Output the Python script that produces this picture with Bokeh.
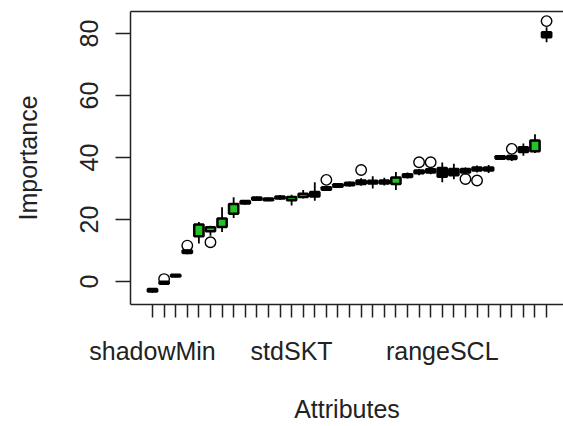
from bokeh.plotting import figure
from bokeh.models import Range1d, LinearAxis, FixedTicker, ColumnDataSource
from bokeh.embed import file_html
from bokeh.resources import INLINE

# ---- data ----
positions = list(range(1, 36))
lower_whisker = [-3.6, -1.0, 1.3, 8.8, 12.3, 14.8, 16.0, 20.5, 24.8, 26.0,
                 25.9, 26.4, 24.5, 26.8, 26.1, 29.2, 30.2, 30.6, 30.9, 30.0,
                 31.0, 29.5, 33.2, 34.3, 34.6, 32.0, 33.0, 34.5, 35.2, 35.0,
                 39.2, 38.9, 40.6, 41.5, 77.2]
q1 = [-3.2, -0.7, 1.6, 9.2, 14.6, 16.2, 17.6, 21.9, 25.2, 26.4,
      26.2, 26.8, 26.2, 27.3, 27.4, 29.6, 30.6, 31.1, 31.5, 31.6,
      31.6, 31.5, 33.7, 34.9, 35.2, 33.8, 34.3, 35.2, 35.8, 35.8,
      39.6, 39.5, 41.8, 42.0, 78.8]
median = [-2.8, -0.4, 1.9, 9.6, 16.3, 16.8, 18.5, 23.3, 25.6, 26.8,
          26.5, 27.1, 26.8, 27.8, 28.2, 30.0, 31.0, 31.5, 32.0, 32.0,
          32.1, 32.5, 34.1, 35.3, 35.7, 35.3, 35.0, 35.8, 36.3, 36.3,
          40.0, 40.0, 42.6, 43.6, 79.6]
q3 = [-2.4, -0.1, 2.2, 10.0, 18.4, 17.5, 20.3, 25.0, 26.0, 27.1,
      26.8, 27.4, 27.3, 28.3, 28.9, 30.4, 31.4, 31.9, 32.6, 32.5,
      32.6, 33.6, 34.6, 35.8, 36.2, 36.6, 36.3, 36.3, 36.8, 36.8,
      40.4, 40.5, 43.3, 45.5, 80.4]
upper_whisker = [-2.1, 0.2, 2.4, 10.4, 19.2, 18.0, 24.0, 27.2, 26.3, 27.4,
                 27.1, 27.9, 28.0, 29.5, 32.0, 30.9, 31.8, 32.3, 33.3, 34.0,
                 33.5, 35.3, 35.2, 36.3, 36.7, 38.4, 38.0, 36.8, 37.4, 37.6,
                 40.8, 41.0, 44.5, 47.5, 82.0]
confirmed = [False, False, False, False, True, True, True, True, False, False,
             False, False, True, True, False, False, False, False, False, False,
             False, True, False, False, False, False, False, False, False, False,
             False, False, False, True, False]
outlier_pos = [2, 4, 6, 16, 19, 24, 25, 28, 29, 32, 35]
outlier_val = [0.8, 11.6, 12.7, 32.8, 36.0, 38.5, 38.5, 33.1, 32.6, 42.8, 84.0]
tick_labels = {1: "shadowMin", 13: "stdSKT", 26: "rangeSCL"}
y_ticks = [0, 20, 40, 60, 80]

FONT = "Liberation Sans"
TXT = "#222222"
GREEN = "#22c322"
FS = "25px"

fills = [GREEN if c else "black" for c in confirmed]
src = ColumnDataSource(dict(x=positions, lw=lower_whisker, q1=q1, med=median,
                            q3=q3, uw=upper_whisker, fill=fills))

p = figure(width=563, height=426, output_backend="svg", toolbar_location=None,
           x_range=Range1d(-0.9, 36.46), y_range=Range1d(-7.4, 87.1),
           min_border_left=130, min_border_top=11, min_border_bottom=122,
           min_border_right=0, x_axis_location=None, y_axis_location=None)
p.grid.visible = False
p.outline_line_color = None
p.background_fill_color = "white"
p.border_fill_color = "white"

# whiskers and caps
p.segment(x0="x", y0="lw", x1="x", y1="q1", source=src, line_color="black", line_width=1.8)
p.segment(x0="x", y0="q3", x1="x", y1="uw", source=src, line_color="black", line_width=1.8)
p.rect(x="x", y="lw", width=0.45, height=0, source=src, line_color="black", line_width=1.8, fill_color=None)
p.rect(x="x", y="uw", width=0.45, height=0, source=src, line_color="black", line_width=1.8, fill_color=None)
# boxes
p.vbar(x="x", bottom="q1", top="q3", width=0.8, source=src, fill_color="fill",
       line_color="black", line_width=2.5)
# medians
p.rect(x="x", y="med", width=0.8, height=0, source=src, line_color="black", line_width=3.5, fill_color=None)
# outliers
p.scatter(x=outlier_pos, y=outlier_val, marker="circle", size=10.5, fill_color=None,
          line_color="black", line_width=1.4)

# left axis
yax = LinearAxis(ticker=FixedTicker(ticks=y_ticks), axis_label="Importance")
yax.major_label_orientation = "vertical"
yax.major_tick_out = 15
yax.major_tick_in = 0
yax.minor_tick_out = 0
yax.minor_tick_in = 0
yax.major_label_standoff = 17
yax.axis_label_standoff = 36
yax.major_label_text_font = FONT
yax.major_label_text_font_size = FS
yax.major_label_text_color = TXT
yax.axis_label_text_font = FONT
yax.axis_label_text_font_size = FS
yax.axis_label_text_font_style = "normal"
yax.axis_label_text_color = TXT
yax.axis_line_color = "#222222"
yax.axis_line_width = 1.5
yax.major_tick_line_color = "#222222"
yax.major_tick_line_width = 1.5
p.add_layout(yax, "left")

# bottom axis
xax = LinearAxis(ticker=FixedTicker(ticks=positions), axis_label="Attributes")
xax.major_label_overrides = {i: tick_labels.get(i, "") for i in positions}
xax.major_tick_out = 13
xax.major_tick_in = 0
xax.minor_tick_out = 0
xax.minor_tick_in = 0
xax.major_label_standoff = 19
xax.axis_label_standoff = 27
xax.major_label_text_font = FONT
xax.major_label_text_font_size = FS
xax.major_label_text_color = TXT
xax.axis_label_text_font = FONT
xax.axis_label_text_font_size = FS
xax.axis_label_text_font_style = "normal"
xax.axis_label_text_color = TXT
xax.axis_line_color = "#222222"
xax.axis_line_width = 1.5
xax.major_tick_line_color = "#222222"
xax.major_tick_line_width = 1.5
p.add_layout(xax, "below")

# top border
tax = LinearAxis(ticker=FixedTicker(ticks=[]))
tax.major_tick_out = 0
tax.major_tick_in = 0
tax.minor_tick_out = 0
tax.major_label_text_font_size = "0px"
tax.axis_line_color = "#222222"
tax.axis_line_width = 1.5
p.add_layout(tax, "above")

open("out.html", "w").write(file_html(p, INLINE))
